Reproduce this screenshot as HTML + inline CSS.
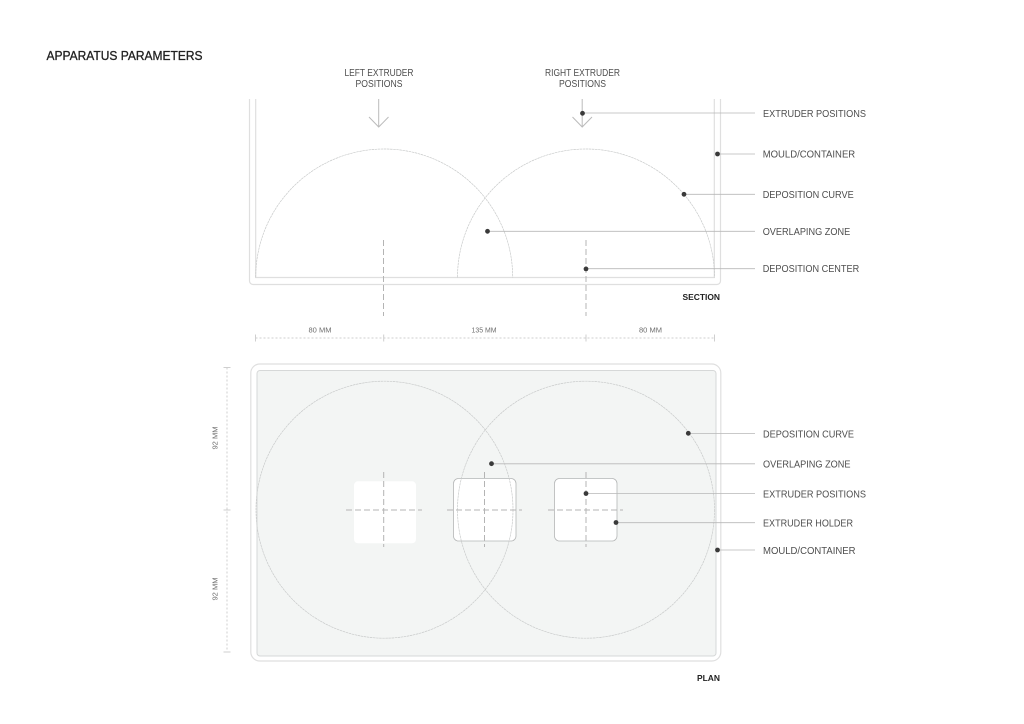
<!DOCTYPE html>
<html>
<head>
<meta charset="utf-8">
<style>
html,body{margin:0;padding:0;background:#fff;width:1024px;height:724px;overflow:hidden}
svg{display:block}
text{font-family:"Liberation Sans",sans-serif}
.l{font-size:10px;fill:#4e4e4e}
.d{font-size:7.5px;fill:#6e6e6e}
.b{font-size:8.5px;fill:#222;font-weight:bold}
.w{fill:none;stroke:#dfdfdf;stroke-width:1.2}
.c{fill:none;stroke:#c8caca;stroke-width:.7;stroke-dasharray:2.5 .6}
.x{fill:none;stroke:#b4b4b4;stroke-width:1;stroke-dasharray:6 3}
.ld{fill:none;stroke:#b8b8b8;stroke-width:.8}
.dim{fill:none;stroke:#cfcfcf;stroke-width:1;stroke-dasharray:2 2}
.t{fill:none;stroke:#cfcfcf;stroke-width:1}
.a{fill:none;stroke:#bbb;stroke-width:1}
.p{fill:#3a3a3a}
</style>
</head>
<body>
<svg width="1024" height="724" viewBox="0 0 1024 724" xmlns="http://www.w3.org/2000/svg">
<rect width="1024" height="724" fill="#fff"/>
<text x="46.5" y="60" font-size="12.5" fill="#222" stroke="#222" stroke-width=".3" textLength="156" lengthAdjust="spacingAndGlyphs">APPARATUS PARAMETERS</text>

<!-- Section -->
<path class="w" d="M249.5 99V281a3.500 3.500 0 0 0 3.500 3.500H717a3.500 3.500 0 0 0 3.500-3.500V99"/>
<path class="w" d="M255.700 99V277.500H714.300V99"/>
<path class="c" d="M255.700 277.500A128.500 128.500 0 0 1 512.700 277.500"/>
<path class="c" d="M457.500 277.500A128.500 128.500 0 0 1 714.500 277.500"/>
<path class="x" d="M383.500 240V316M586 240V316"/>
<path class="a" d="M378.700 99V127M369 117L378.700 127L388.500 117"/>
<path class="a" d="M582.200 99V127M572.500 117L582.200 127L592 117"/>

<text class="l" x="379" y="76" text-anchor="middle" textLength="69" lengthAdjust="spacingAndGlyphs">LEFT EXTRUDER</text>
<text class="l" x="379" y="87" text-anchor="middle" textLength="47" lengthAdjust="spacingAndGlyphs">POSITIONS</text>
<text class="l" x="582.500" y="76" text-anchor="middle" textLength="75" lengthAdjust="spacingAndGlyphs">RIGHT EXTRUDER</text>
<text class="l" x="582.500" y="87" text-anchor="middle" textLength="47" lengthAdjust="spacingAndGlyphs">POSITIONS</text>

<!-- Dimensions -->
<path class="dim" d="M255.500 338H714.500"/>
<path class="t" d="M255.500 334.500V341.500M383.700 334.500V341.500M586 334.500V341.500M714.500 334.500V341.500"/>
<text class="d" x="320" y="332.500" text-anchor="middle" textLength="23" lengthAdjust="spacingAndGlyphs">80 MM</text>
<text class="d" x="484" y="332.500" text-anchor="middle" textLength="25" lengthAdjust="spacingAndGlyphs">135 MM</text>
<text class="d" x="650.500" y="332.500" text-anchor="middle" textLength="23" lengthAdjust="spacingAndGlyphs">80 MM</text>
<path class="dim" d="M227 367.500V652"/>
<path class="t" d="M223.500 367.500H230.500M223.500 510H230.500M223.500 652H230.500"/>
<text class="d" transform="translate(217.500 438) rotate(-90)" text-anchor="middle" textLength="23" lengthAdjust="spacingAndGlyphs">92 MM</text>
<text class="d" transform="translate(217.500 589) rotate(-90)" text-anchor="middle" textLength="23" lengthAdjust="spacingAndGlyphs">92 MM</text>

<!-- Plan -->
<rect class="w" x="250.800" y="364" width="470" height="297" rx="9" ry="9"/>
<rect x="257" y="370.500" width="459" height="285.500" rx="3" ry="3" fill="#f3f5f4" stroke="#d6d8d8" stroke-width="1"/>
<rect x="354" y="481.300" width="62" height="62" rx="4" fill="#fff"/>
<rect x="453.500" y="478.500" width="62.500" height="62.500" rx="5" fill="#fff" stroke="#b4b6b6" stroke-width=".8"/>
<rect x="554.500" y="478.500" width="62.500" height="62.500" rx="5" fill="#fff" stroke="#b4b6b6" stroke-width=".8"/>
<circle class="c" cx="384.500" cy="509.700" r="128.500"/>
<circle class="c" cx="586" cy="509.700" r="128.500"/>
<path class="x" d="M383.700 472V547M346 510H422M484.500 472V547M447 510H522M586 472V547M548 510H623"/>

<!-- Section leaders -->
<path class="ld" d="M582.500 113H755M717.500 154H755M684 194.300H755M487.500 231.300H755M586 268.700H755"/>
<circle class="p" cx="582.500" cy="113.300" r="2.400"/>
<circle class="p" cx="717.500" cy="154" r="2.400"/>
<circle class="p" cx="684" cy="194.300" r="2.400"/>
<circle class="p" cx="487.500" cy="231.300" r="2.400"/>
<circle class="p" cx="586" cy="268.900" r="2.400"/>
<text class="l" x="763" y="117" textLength="103" lengthAdjust="spacingAndGlyphs">EXTRUDER POSITIONS</text>
<text class="l" x="762.700" y="157.500" textLength="92.500" lengthAdjust="spacingAndGlyphs">MOULD/CONTAINER</text>
<text class="l" x="762.700" y="198" textLength="91" lengthAdjust="spacingAndGlyphs">DEPOSITION CURVE</text>
<text class="l" x="762.700" y="235" textLength="87.500" lengthAdjust="spacingAndGlyphs">OVERLAPING ZONE</text>
<text class="l" x="762.700" y="272" textLength="96.500" lengthAdjust="spacingAndGlyphs">DEPOSITION CENTER</text>
<text class="b" x="682.500" y="300" textLength="37.500" lengthAdjust="spacingAndGlyphs">SECTION</text>

<!-- Plan leaders -->
<path class="ld" d="M688 433.500H755M491.500 463.800H755M586 493.500H755M616 522.700H755M717.500 550H755"/>
<circle class="p" cx="688.300" cy="433.300" r="2.400"/>
<circle class="p" cx="491.500" cy="463.700" r="2.400"/>
<circle class="p" cx="586" cy="493.500" r="2.400"/>
<circle class="p" cx="616" cy="522.500" r="2.400"/>
<circle class="p" cx="717.500" cy="550" r="2.400"/>
<text class="l" x="763" y="437.500" textLength="91" lengthAdjust="spacingAndGlyphs">DEPOSITION CURVE</text>
<text class="l" x="763" y="467.500" textLength="87.500" lengthAdjust="spacingAndGlyphs">OVERLAPING ZONE</text>
<text class="l" x="763" y="497.500" textLength="103" lengthAdjust="spacingAndGlyphs">EXTRUDER POSITIONS</text>
<text class="l" x="763" y="526.500" textLength="90" lengthAdjust="spacingAndGlyphs">EXTRUDER HOLDER</text>
<text class="l" x="763" y="554" textLength="92.500" lengthAdjust="spacingAndGlyphs">MOULD/CONTAINER</text>
<text class="b" x="697" y="681" textLength="23" lengthAdjust="spacingAndGlyphs">PLAN</text>
</svg>
</body>
</html>
